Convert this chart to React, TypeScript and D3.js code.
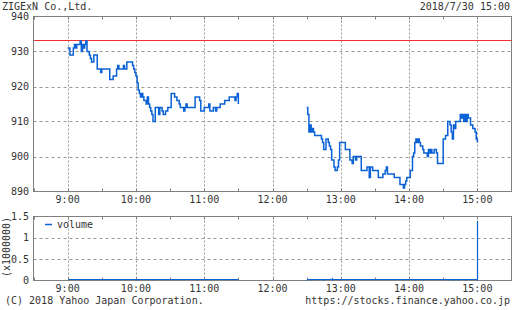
import React from "react";
import * as d3 from "d3";

// ---- data (minutes after 9:00) ----
const amTimes = [0, 2, 5, 6, 7, 8, 11, 12, 13, 14, 15, 16, 17, 19, 20, 21, 23, 26, 29, 30, 37, 40, 43, 44, 45, 49, 50, 52, 57, 58, 59, 60, 61, 62, 63, 64, 65, 66, 67, 69, 70, 71, 72, 73, 74, 75, 77, 80, 81, 83, 84, 86, 88, 91, 94, 96, 98, 99, 102, 103, 104, 105, 112, 116, 117, 120, 124, 125, 128, 130, 131, 134, 138, 142, 147, 148, 149, 150];
const amPrices = [931, 929, 931, 932, 931, 932, 933, 930, 932, 931, 932, 933, 930, 929, 928, 927, 929, 925, 924, 925, 922, 923, 925, 926, 925, 926, 925, 927, 926, 925, 924, 923, 921, 919, 918, 917, 918, 917, 916, 915, 917, 915, 914, 913, 912, 910, 914, 912, 914, 913, 912, 913, 914, 918, 917, 916, 915, 914, 913, 914, 915, 914, 917, 916, 913, 914, 915, 913, 914, 913, 914, 915, 916, 917, 916, 917, 918, 915];

const pmTimes = [210, 211, 212, 213, 214, 215, 216, 217, 223, 224, 225, 227, 229, 230, 231, 232, 234, 235, 237, 238, 239, 244, 248, 250, 251, 253, 254, 258, 263, 265, 266, 268, 273, 277, 279, 280, 281, 287, 292, 295, 296, 297, 298, 301, 303, 304, 305, 306, 307, 308, 309, 310, 312, 313, 316, 317, 318, 319, 320, 322, 324, 325, 330, 332, 334, 336, 337, 338, 339, 340, 341, 345, 346, 347, 348, 349, 350, 351, 352, 354, 356, 358, 359, 360];
const pmPrices = [914, 912, 907, 909, 907, 908, 907, 906, 905, 904, 902, 905, 904, 903, 902, 899, 897, 896, 897, 899, 904, 902, 899, 898, 900, 899, 900, 896, 897, 894, 897, 896, 894, 895, 896, 897, 895, 894, 892, 891, 892, 893, 894, 896, 900, 901, 904, 905, 904, 905, 904, 903, 902, 901, 900, 902, 901, 902, 901, 902, 901, 898, 905, 906, 910, 909, 907, 905, 909, 908, 910, 912, 911, 912, 910, 912, 910, 912, 911, 909, 908, 907, 905, 904];

const refPrice = 933;

const volTimes = [61, 74, 210, 214, 224, 232, 238, 303, 305, 312, 330, 334, 338, 343, 349, 360];
const volValues = [0.02, 0.02, 0.03, 0.02, 0.03, 0.06, 0.03, 0.04, 0.02, 0.02, 0.02, 0.02, 0.02, 0.02, 0.03, 1.39];
const sessions: [number, number][] = [[0, 150], [210, 360]];

const hourLabels = ["9:00", "10:00", "11:00", "12:00", "13:00", "14:00", "15:00"];
const hourMinutes = [0, 60, 120, 180, 240, 300, 360];
const halfHourMinutes = [-30, 30, 90, 150, 210, 270, 330, 390];
const priceTicks = [940, 930, 920, 910, 900, 890];
const volTicks = [0, 0.5, 1, 1.5];
const volTickLabels = ["0", "0.5", "1", "1.5"];

const title = "ZIGExN Co.,Ltd.";
const dateText = "2018/7/30 15:00";
const copyright = "(C) 2018 Yahoo Japan Corporation.";
const url = "https://stocks.finance.yahoo.co.jp";

const FONT = "'DejaVu Sans Mono', monospace";
const BLUE = "#0a62d6";
const RED = "#f03030";
const GRID = "#999";
const FRAME = "#808080";
const TEXT = "#333";

export default function App() {
  const x = d3.scaleLinear().domain([-30, 390]).range([33.5, 511.5]);
  const y = d3.scaleLinear().domain([890, 940]).range([191.5, 16.5]);
  const yv = d3.scaleLinear().domain([0, 1.5]).range([280.5, 216.5]);
  const px = (m: number) => Math.round(x(m)) + 0.5;

  const line = d3
    .line<[number, number]>()
    .x((d) => x(d[0]))
    .y((d) => y(d[1]))
    .curve(d3.curveStepAfter);

  const am = amTimes.map((t, i) => [t, amPrices[i]] as [number, number]);
  const pm = pmTimes.map((t, i) => [t, pmPrices[i]] as [number, number]);

  const panels = [
    { top: 16.5, bottom: 191.5 },
    { top: 216.5, bottom: 280.5 },
  ];

  return (
    <svg
      width={512}
      height={310}
      style={{ position: "absolute", left: 0, top: 0, background: "#fff" }}
      fontFamily={FONT}
      fontSize={10}
    >
      <rect x={0} y={0} width={512} height={310} fill="#fff" />
      <text x={2} y={10} fill={TEXT}>{title}</text>
      <text x={510} y={10} fill={TEXT} textAnchor="end">{dateText}</text>

      {/* grids */}
      {panels.map((p, pi) => (
        <g key={pi}>
          {hourMinutes.map((m) => (
            <line key={m} x1={px(m)} x2={px(m)} y1={p.top} y2={p.bottom} stroke={GRID} strokeDasharray="2,2" />
          ))}
          {[...halfHourMinutes, ...hourMinutes].map((m) => (
            <g key={"t" + m}>
              <line x1={px(m)} x2={px(m)} y1={p.top} y2={p.top + 3} stroke={FRAME} />
              <line x1={px(m)} x2={px(m)} y1={p.bottom - 3} y2={p.bottom} stroke={FRAME} />
            </g>
          ))}
        </g>
      ))}
      {priceTicks.slice(1, -1).map((v) => (
        <line key={v} x1={33.5} x2={511.5} y1={Math.round(y(v)) + 0.5} y2={Math.round(y(v)) + 0.5} stroke={GRID} strokeDasharray="3,3" />
      ))}
      {volTicks.slice(1, -1).map((v) => (
        <line key={v} x1={33.5} x2={511.5} y1={Math.round(yv(v)) + 0.5} y2={Math.round(yv(v)) + 0.5} stroke={GRID} strokeDasharray="3,3" />
      ))}

      {/* frames */}
      {panels.map((p, pi) => (
        <rect key={pi} x={33.5} y={p.top} width={478} height={p.bottom - p.top} fill="none" stroke={FRAME} />
      ))}

      {/* reference line */}
      <line x1={34} x2={511.5} y1={Math.round(y(refPrice)) - 0.5} y2={Math.round(y(refPrice)) - 0.5} stroke={RED} strokeWidth={1.2} />

      {/* price */}
      <path d={line(am) || ""} fill="none" stroke={BLUE} strokeWidth={1.5} />
      <path d={line(pm) || ""} fill="none" stroke={BLUE} strokeWidth={1.5} />

      {/* volume */}
      {sessions.map(([a, b], i) => (
        <line key={i} x1={px(a)} x2={px(b)} y1={279.5} y2={279.5} stroke={BLUE} strokeWidth={1} />
      ))}
      {volTimes.map((t, i) => (
        <line key={i} x1={px(t)} x2={px(t)} y1={yv(0)} y2={yv(volValues[i])} stroke={BLUE} strokeWidth={1.2} />
      ))}

      {/* legend */}
      <line x1={45} x2={52} y1={224.5} y2={224.5} stroke={BLUE} strokeWidth={1.5} />
      <text x={57} y={228} fill={TEXT}>volume</text>

      {/* axis labels */}
      {priceTicks.map((v) => (
        <text key={v} x={29} y={y(v) + 3.5} fill={TEXT} textAnchor="end">{v}</text>
      ))}
      {volTicks.map((v, i) => (
        <text key={v} x={29} y={yv(v) + 3.5} fill={TEXT} textAnchor="end">{volTickLabels[i]}</text>
      ))}
      <text transform="translate(10,247) rotate(-90)" fill={TEXT} textAnchor="middle">(x1000000)</text>
      {hourLabels.map((l, i) => (
        <g key={l}>
          <text x={x(hourMinutes[i])} y={203} fill={TEXT} textAnchor="middle">{l}</text>
          <text x={x(hourMinutes[i])} y={292} fill={TEXT} textAnchor="middle">{l}</text>
        </g>
      ))}
      <text x={5} y={304} fill={TEXT}>{copyright}</text>
      <text x={510} y={304} fill={TEXT} textAnchor="end">{url}</text>
    </svg>
  );
}
